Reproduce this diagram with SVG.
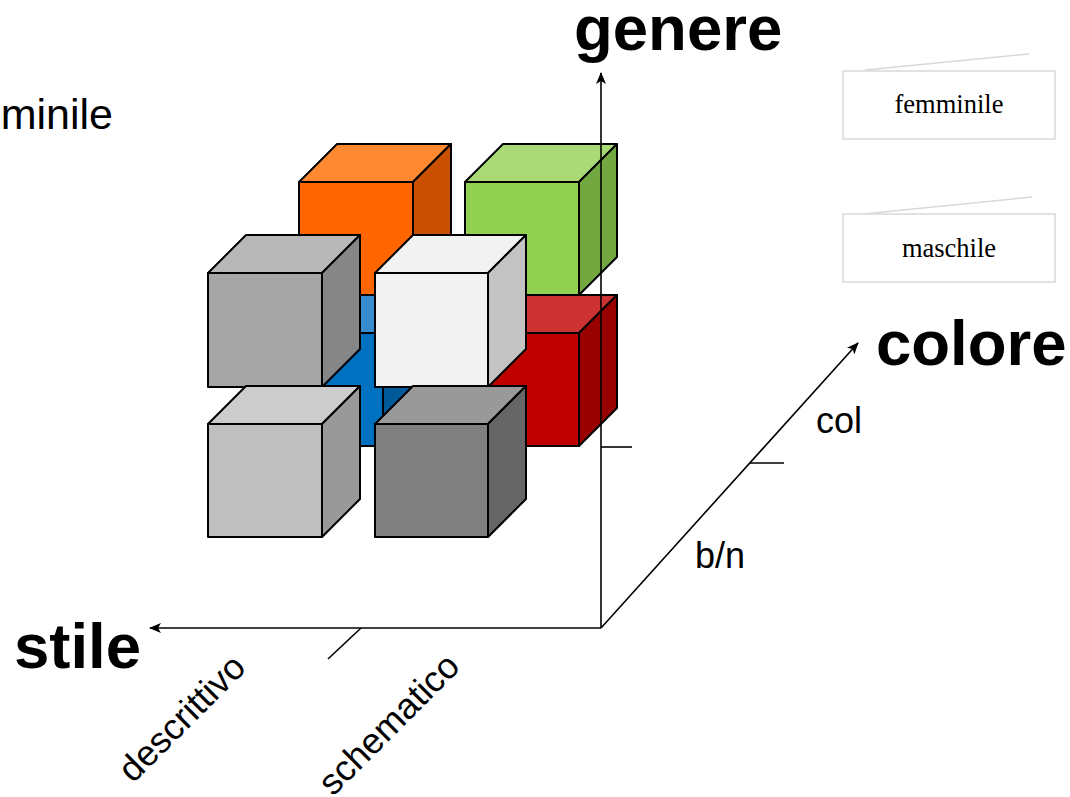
<svg xmlns="http://www.w3.org/2000/svg" width="1070" height="797" viewBox="0 0 1070 797">
<style>
.cube polygon, .cube rect { stroke: #000; stroke-width: 2; stroke-linejoin: round; }
.ax { stroke: #000; stroke-width: 1.6; fill: none; }
.big { font-family: "Liberation Sans", Arial, sans-serif; font-weight: bold; font-size: 63.5px; fill: #000; }
.lbl { font-family: "Liberation Sans", Arial, sans-serif; font-size: 36px; fill: #000; }
.leg { font-family: "Liberation Serif", "Times New Roman", serif; font-size: 26.5px; fill: #000; }
.box { fill: #fff; stroke: #d9d9d9; stroke-width: 1.5; }
.ghost { stroke: #d9d9d9; stroke-width: 1.5; }
</style>
<defs>
<marker id="arr" viewBox="0 0 12 10" refX="11" refY="5" markerWidth="12" markerHeight="10" markerUnits="userSpaceOnUse" orient="auto">
<path d="M0,0 L12,5 L0,10 L3,5 z" fill="#000"/>
</marker>
</defs>
<rect width="1070" height="797" fill="#fff"/>

<text class="lbl" x="113" y="129" text-anchor="end" style="font-size:43px">femminile</text>

<g id="cube-orange" class="cube">
<rect x="299" y="182" width="114" height="113" fill="#FF6600"/>
<polygon points="299,182 337,144 451,144 413,182" fill="#FF8833"/>
<polygon points="413,182 451,144 451,257 413,295" fill="#C85000"/>
</g>
<g id="cube-green" class="cube">
<rect x="465" y="182" width="114" height="113" fill="#92D050"/>
<polygon points="465,182 503,144 617,144 579,182" fill="#A9DA75"/>
<polygon points="579,182 617,144 617,257 579,295" fill="#72A83F"/>
</g>
<g id="cube-blue" class="cube">
<rect x="269" y="333" width="114" height="113" fill="#0070C0"/>
<polygon points="269,333 307,295 421,295 383,333" fill="#368CCF"/>
<polygon points="383,333 421,295 421,408 383,446" fill="#005A9A"/>
</g>
<g id="cube-red" class="cube">
<rect x="465" y="333" width="114" height="113" fill="#C00000"/>
<polygon points="465,333 503,295 617,295 579,333" fill="#CD3333"/>
<polygon points="579,333 617,295 617,408 579,446" fill="#990000"/>
</g>
<g id="cube-grey" class="cube">
<rect x="208" y="273" width="114" height="114" fill="#A6A6A6"/>
<polygon points="208,273 246,235 360,235 322,273" fill="#B8B8B8"/>
<polygon points="322,273 360,235 360,349 322,387" fill="#868686"/>
</g>
<g id="cube-white" class="cube">
<rect x="375" y="273" width="113" height="114" fill="#F2F2F2"/>
<polygon points="375,273 413,235 526,235 488,273" fill="#F2F2F2"/>
<polygon points="488,273 526,235 526,349 488,387" fill="#C3C3C3"/>
</g>
<g id="cube-lightgrey" class="cube">
<rect x="208" y="424" width="114" height="113" fill="#BFBFBF"/>
<polygon points="208,424 246,386 360,386 322,424" fill="#CCCCCC"/>
<polygon points="322,424 360,386 360,499 322,537" fill="#999999"/>
</g>
<g id="cube-darkgrey" class="cube">
<rect x="375" y="424" width="113" height="113" fill="#808080"/>
<polygon points="375,424 413,386 526,386 488,424" fill="#999999"/>
<polygon points="488,424 526,386 526,499 488,537" fill="#666666"/>
</g>

<g id="connectors">
<line class="ax" x1="601" y1="628" x2="601" y2="73" marker-end="url(#arr)"/>
<line class="ax" x1="601" y1="628" x2="150" y2="628" marker-end="url(#arr)"/>
<line class="ax" x1="601" y1="628" x2="858" y2="343" marker-end="url(#arr)"/>
<line class="ax" x1="601" y1="447" x2="632" y2="447"/>
<line class="ax" x1="750" y1="463" x2="784" y2="463"/>
<line class="ax" x1="361" y1="628" x2="328" y2="659"/>
</g>

<g id="axis-labels">
<text class="big" x="574" y="50">genere</text>
<text class="big" x="876" y="365">colore</text>
<text class="big" x="14" y="668">stile</text>
<text class="lbl" x="816" y="433">col</text>
<text class="lbl" x="695" y="568">b/n</text>
<text class="lbl" transform="translate(133,784) rotate(-45)">descrittivo</text>
<text class="lbl" transform="translate(333,797) rotate(-45)">schematico</text>
</g>

<g id="legend-femminile">
<line class="ghost" x1="865" y1="70" x2="1029" y2="54"/>
<rect class="box" x="843" y="71" width="212" height="68"/>
<text class="leg" x="949" y="113" text-anchor="middle">femminile</text>
</g>
<g id="legend-maschile">
<line class="ghost" x1="863" y1="214" x2="1032" y2="197"/>
<rect class="box" x="843" y="214" width="212" height="68"/>
<text class="leg" x="949" y="257" text-anchor="middle">maschile</text>
</g>
</svg>
